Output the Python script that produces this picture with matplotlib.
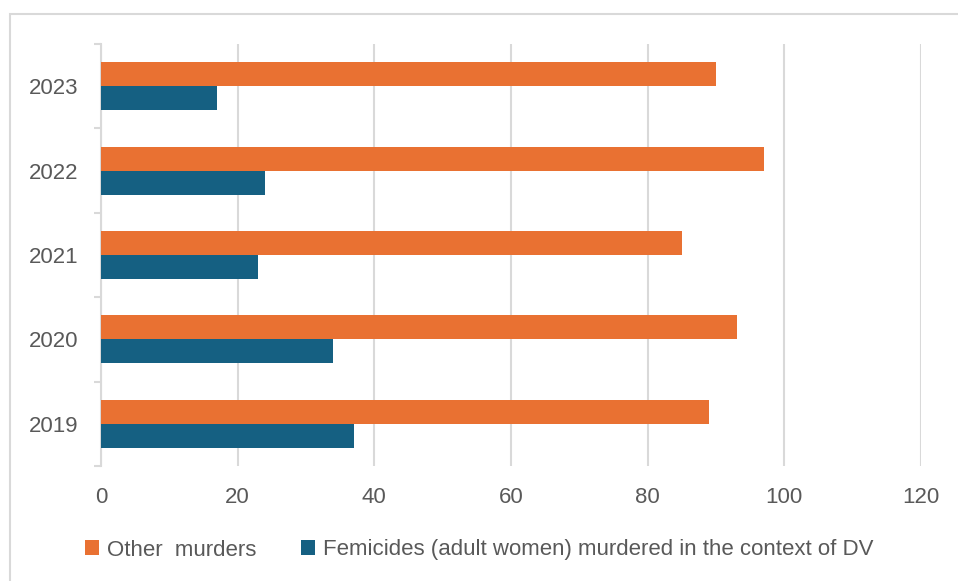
import matplotlib.pyplot as plt
from matplotlib.patches import Rectangle
import numpy as np

years = ['2019', '2020', '2021', '2022', '2023']
other_murders = [89, 93, 85, 97, 90]
femicides = [37, 34, 23, 24, 17]
x_ticks = [0, 20, 40, 60, 80, 100, 120]

orange = '#E97132'
blue = '#156082'
grey_txt = '#595959'
grid_col = '#D9D9D9'

plt.rcParams['font.family'] = ['Liberation Sans', 'DejaVu Sans']

W, H = 958, 581
fig = plt.figure(figsize=(W / 100, H / 100), dpi=100)
ax = fig.add_axes([101 / W, 1 - 466 / H, (921 - 101) / W, (466 - 44) / H])

# chart frame (cropped at right/bottom in the reference)
fig.patches.append(Rectangle((10 / W, -0.1), 1.2, 1 - 14 / H + 0.1, transform=fig.transFigure,
                             fill=False, edgecolor=grid_col, linewidth=1.5))

y = np.arange(len(years))
h = 0.285
ax.barh(y + h / 2, other_murders, height=h, color=orange, label='Other  murders', zorder=3)
ax.barh(y - h / 2, femicides, height=h, color=blue,
        label='Femicides (adult women) murdered in the context of DV', zorder=3)

ax.set_xlim(0, 120)
ax.set_ylim(-0.5, len(years) - 0.5)
ax.set_xticks(x_ticks)
ax.set_yticks(y)
ax.set_yticklabels(years)
ax.set_yticks(np.arange(-0.5, len(years), 1), minor=True)

ax.grid(axis='x', color=grid_col, linewidth=1.5, zorder=0)
for s in ['top', 'right', 'bottom']:
    ax.spines[s].set_visible(False)
ax.spines['left'].set_color(grid_col)
ax.spines['left'].set_linewidth(1.5)

ax.tick_params(axis='x', length=0, pad=15, labelsize=16, labelcolor=grey_txt)
ax.tick_params(axis='y', which='major', length=0, pad=16, labelsize=16, labelcolor=grey_txt)
ax.tick_params(axis='y', which='minor', length=5, width=1.5, color=grid_col)

fig.legend(loc='center', bbox_to_anchor=(0.5, 1 - 550 / H), ncol=2, frameon=False,
           fontsize=16, labelcolor=grey_txt, handlelength=0.65, handleheight=0.65,
           handletextpad=0.35, columnspacing=2.0)

fig.savefig('out.png', dpi=100)
